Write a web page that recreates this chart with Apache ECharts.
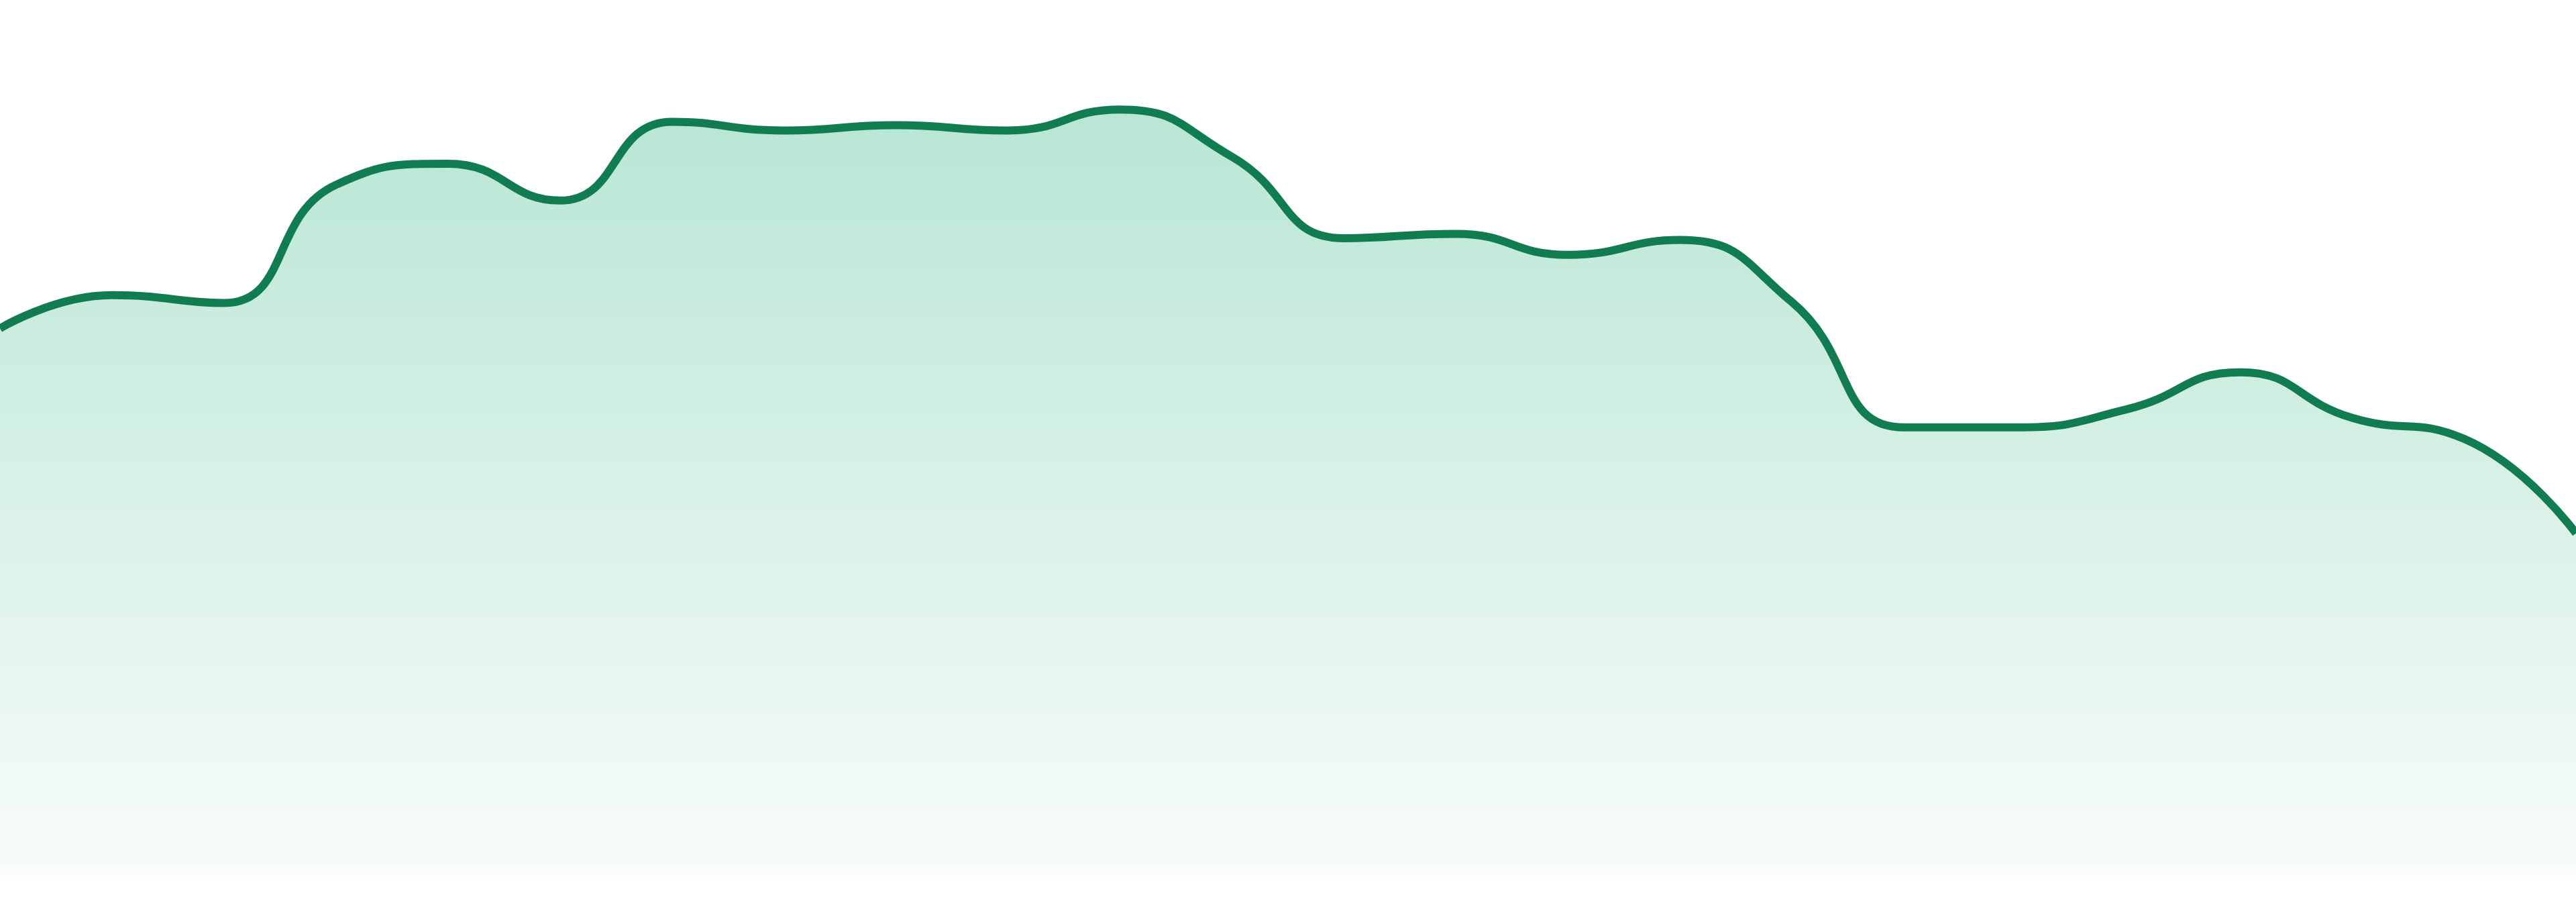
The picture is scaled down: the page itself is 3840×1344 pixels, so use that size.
<!DOCTYPE html>
<html>
<head>
<meta charset="utf-8">
<style>
  html, body { margin: 0; padding: 0; background: #ffffff; }
  #chart { width: 3840px; height: 1344px; }
</style>
<script src="https://cdn.jsdelivr.net/npm/echarts@6/dist/echarts.min.js"></script>
</head>
<body>
<div id="chart"></div>
<script>
// 24 evenly spaced samples, no labels shown in the picture
const days = ["1", "2", "3", "4", "5", "6", "7", "8", "9", "10", "11", "12",
  "13", "14", "15", "16", "17", "18", "19", "20", "21", "22", "23", "24"]

// values on a 0-100 scale (bottom of the fill = 0)
const values = [62.5, 66.3, 65.4, 78.9, 81.3, 77.1, 86.1, 85.1, 85.7, 85.1, 87.5, 82.1,
  72.8, 73.3, 70.9, 72.6, 65.5, 51.2, 51.2, 53.3, 57.5, 52.3, 49.9, 39.1]

const yMin = 0
const yMax = 100

const myChart = echarts.init(document.getElementById("chart"))

const hidden = { show: false }

const option = {
  animation: false,
  backgroundColor: "#ffffff",
  grid: { left: 0, right: 0, top: 0, bottom: 39 },
  xAxis: {
    type: "category",
    data: days,
    boundaryGap: false,
    axisLine: hidden,
    axisTick: hidden,
    axisLabel: hidden,
    splitLine: hidden
  },
  yAxis: {
    type: "value",
    min: yMin,
    max: yMax,
    axisLine: hidden,
    axisTick: hidden,
    axisLabel: hidden,
    splitLine: hidden
  },
  series: [
    {
      type: "line",
      data: values,
      smooth: true,
      showSymbol: false,
      lineStyle: { color: "#127c51", width: 12 },
      itemStyle: { color: "#127c51" },
      areaStyle: {
        opacity: 1,
        color: new echarts.graphic.LinearGradient(0, 0, 0, 1, [
          { offset: 0, color: "#b8e6d4" },
          { offset: 1, color: "#f8fcfa" }
        ])
      }
    }
  ]
}

myChart.setOption(option)
</script>
</body>
</html>
